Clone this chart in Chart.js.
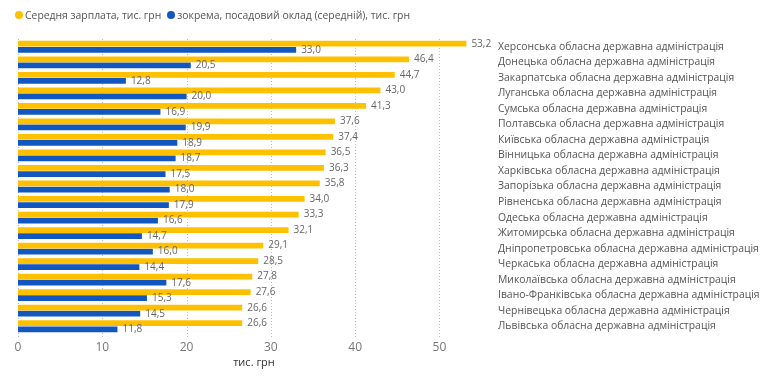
<!DOCTYPE html>
<html lang="uk">
<head>
    <meta charset="UTF-8">
    <title>Зарплати в обласних державних адміністраціях</title>
    <script src="https://cdn.jsdelivr.net/npm/chart.js"></script>
    <style>
        body { margin: 0; background: #fff; font-family: "Open Sans", sans-serif; }
        #wrap { position: relative; width: 767px; height: 376px; }
        #legend { position: absolute; left: 15px; top: 8px; font-size: 10.4px; color: #555; display: flex; align-items: center; white-space: nowrap; }
        #legend span.dot { display: inline-block; width: 8px; height: 8px; border-radius: 50%; margin-right: 2px; }
        #legend span.item { display: inline-flex; align-items: center; margin-right: 6px; }
    </style>
</head>
<body>
    <div id="wrap">
        <div id="legend"></div>
        <canvas id="salaryChart" width="767" height="376"></canvas>
    </div>

    <script>
        const regions = [
            "Херсонська", "Донецька", "Закарпатська", "Луганська", "Сумська",
            "Полтавська", "Київська", "Вінницька", "Харківська", "Запорізька",
            "Рівненська", "Одеська", "Житомирська", "Дніпропетровська", "Черкаська",
            "Миколаївська", "Івано-Франківська", "Чернівецька", "Львівська"
        ];
        const categories = regions.map(r => r + " обласна державна адміністрація");

        const avgSalary = [53.2, 46.4, 44.7, 43.0, 41.3, 37.6, 37.4, 36.5, 36.3, 35.8,
                           34.0, 33.3, 32.1, 29.1, 28.5, 27.8, 27.6, 26.6, 26.6];
        const baseSalary = [33.0, 20.5, 12.8, 20.0, 16.9, 19.9, 18.9, 18.7, 17.5, 18.0,
                            17.9, 16.6, 14.7, 16.0, 14.4, 17.6, 15.3, 14.5, 11.8];

        const seriesNames = ["Середня зарплата, тис. грн", "зокрема, посадовий оклад (середній), тис. грн"];
        const colors = ["#FFC000", "#1257BF"];
        const xTicks = [0, 10, 20, 30, 40, 50];

        // simple html legend
        const legend = document.getElementById('legend');
        seriesNames.forEach((name, i) => {
            legend.innerHTML += `<span class="item"><span class="dot" style="background:${colors[i]}"></span>${name}</span>`;
        });

        // dotted vertical gridlines, drawn as single pixels so they survive rendering
        const dottedGrid = {
            id: 'dottedGrid',
            beforeDatasetsDraw(chart) {
                const { ctx, chartArea, scales } = chart;
                ctx.save();
                ctx.fillStyle = '#bcbcbc';
                xTicks.forEach(v => {
                    const x = Math.round(scales.x.getPixelForValue(v));
                    for (let y = Math.round(chartArea.top); y < chartArea.bottom + 3; y += 3) {
                        ctx.fillRect(x, y, 1, 1);
                    }
                });
                ctx.restore();
            }
        };

        // value labels next to the bars
        const valueLabels = {
            id: 'valueLabels',
            afterDatasetsDraw(chart) {
                const ctx = chart.ctx;
                ctx.save();
                ctx.font = '10px "Open Sans"';
                ctx.fillStyle = '#666';
                ctx.textBaseline = 'middle';
                chart.data.datasets.forEach((ds, i) => {
                    chart.getDatasetMeta(i).data.forEach((bar, j) => {
                        ctx.fillText(ds.data[j].toFixed(1).replace('.', ','), bar.x + 5, bar.y);
                    });
                });
                ctx.restore();
            }
        };

        const ctx = document.getElementById('salaryChart').getContext('2d');
        new Chart(ctx, {
            type: 'bar',
            data: {
                labels: categories,
                datasets: [
                    { label: seriesNames[0], data: avgSalary, backgroundColor: colors[0] },
                    { label: seriesNames[1], data: baseSalary, backgroundColor: colors[1] }
                ]
            },
            options: {
                indexAxis: 'y',
                responsive: false,
                animation: false,
                categoryPercentage: 0.78,
                barPercentage: 0.95,
                layout: { padding: { left: 18, top: 39, right: 0, bottom: 0 } },
                scales: {
                    x: {
                        min: 0,
                        max: 56,
                        afterBuildTicks: axis => { axis.ticks = xTicks.map(v => ({ value: v })); },
                        afterFit: axis => { axis.height = 42; },
                        border: { display: false },
                        grid: { display: false, drawTicks: false },
                        ticks: { color: '#777', font: { family: 'Open Sans', size: 12 }, padding: 6 },
                        title: {
                            display: true,
                            text: 'тис. грн',
                            color: '#333',
                            font: { family: 'Open Sans', size: 11 },
                            padding: { top: 0, bottom: 7 }
                        }
                    },
                    y: {
                        position: 'right',
                        afterFit: axis => { axis.width = 277; },
                        border: { display: false },
                        grid: { display: false, drawTicks: false },
                        ticks: { color: '#555', font: { family: 'Open Sans', size: 10.4 }, padding: 8, autoSkip: false }
                    }
                },
                plugins: {
                    legend: { display: false },
                    tooltip: { enabled: false }
                }
            },
            plugins: [dottedGrid, valueLabels]
        });
    </script>
</body>
</html>
